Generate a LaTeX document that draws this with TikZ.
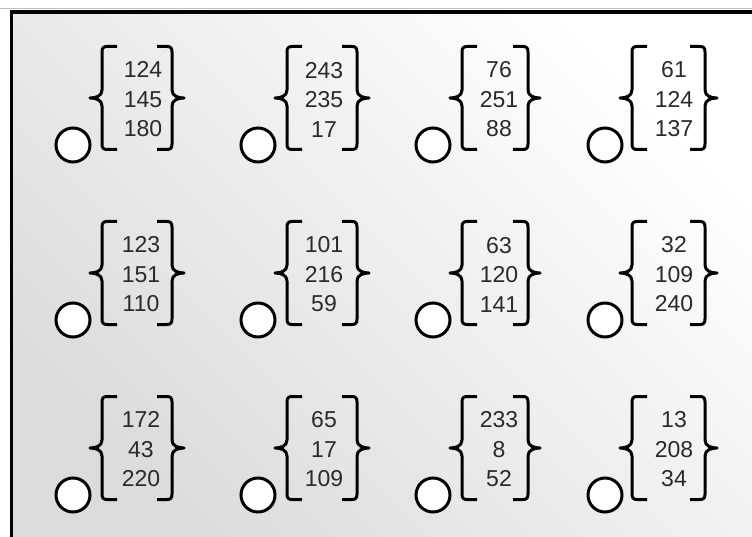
\documentclass[tikz,border=0pt]{standalone}
\usepackage{fontspec}
\setmainfont{Liberation Sans}
\definecolor{numgray}{HTML}{2A2A2A}
\newcommand{\lbrk}[2]{%
  \draw[br] ({#1+15},{#2+51.5}) -- ({#1+5},{#2+51.5})
    .. controls ({#1+1.5},{#2+51.5}) and ({#1},{#2+50}) .. ({#1},{#2+46})
    -- ({#1},{#2+8})
    .. controls ({#1},{#2+2}) and ({#1-6},{#2}) .. ({#1-12},{#2})
    .. controls ({#1-6},{#2}) and ({#1},{#2-2}) .. ({#1},{#2-8})
    -- ({#1},{#2-46})
    .. controls ({#1},{#2-50}) and ({#1+1.5},{#2-51.5}) .. ({#1+5},{#2-51.5})
    -- ({#1+15},{#2-51.5});}
\newcommand{\rbrk}[2]{%
  \draw[br] ({#1-15},{#2+51.5}) -- ({#1-5},{#2+51.5})
    .. controls ({#1-1.5},{#2+51.5}) and ({#1},{#2+50}) .. ({#1},{#2+46})
    -- ({#1},{#2+8})
    .. controls ({#1},{#2+2}) and ({#1+6},{#2}) .. ({#1+12},{#2})
    .. controls ({#1+6},{#2}) and ({#1},{#2-2}) .. ({#1},{#2-8})
    -- ({#1},{#2-46})
    .. controls ({#1},{#2-50}) and ({#1-1.5},{#2-51.5}) .. ({#1-5},{#2-51.5})
    -- ({#1-15},{#2-51.5});}
\begin{document}
\begin{tikzpicture}[x=1pt,y=1pt,
  ring/.style={circle,draw=black,fill=white,line width=3pt,minimum size=34pt,inner sep=0pt},
  br/.style={draw=black,line width=3pt,line cap=butt,line join=round},
  nums/.style={align=center,text=numgray,font=\fontsize{23}{29.5}\selectfont,inner sep=0pt},
  frameline/.style={draw=black,line width=3.5pt}]
\useasboundingbox (0,-537) rectangle (752,0);
\fill[white] (0,-537) rectangle (752,0);
\shade[top color=white, bottom color=black!14, shading angle=-45] (11.5,-12) rectangle (752,-537);
\coordinate (fb) at (11.5,-537);
\coordinate (ft) at (11.5,-12);
\coordinate (fr) at (752,-12);
\draw[black!25,line width=1pt] (0,-8.5) -- (752,-8.5);
\draw[frameline] (fb) -- (ft) -- (fr);
\foreach \r/\my in {1/-98, 2/-273, 3/-448} {
  \foreach \c/\cx/\L/\R in {1/73/102/172, 2/258/287/357, 3/433/462/528, 4/605/632/705} {
    \node[ring] (c\r\c) at (\cx,{\my-47}) {};
    \lbrk{\L}{\my}
    \rbrk{\R}{\my}
  }
}
\node[nums] (n11) at (143,-99.5) {124\\145\\180};
\node[nums] (n12) at (324,-99.5) {243\\235\\17};
\node[nums] (n13) at (499,-99.5) {76\\251\\88};
\node[nums] (n14) at (674,-99.5) {61\\124\\137};
\node[nums] (n21) at (141,-274.5) {123\\151\\110};
\node[nums] (n22) at (324,-274.5) {101\\216\\59};
\node[nums] (n23) at (499,-274.5) {63\\120\\141};
\node[nums] (n24) at (674,-274.5) {32\\109\\240};
\node[nums] (n31) at (141,-449.5) {172\\43\\220};
\node[nums] (n32) at (324,-449.5) {65\\17\\109};
\node[nums] (n33) at (499,-449.5) {233\\8\\52};
\node[nums] (n34) at (674,-449.5) {13\\208\\34};
\end{tikzpicture}
\end{document}
